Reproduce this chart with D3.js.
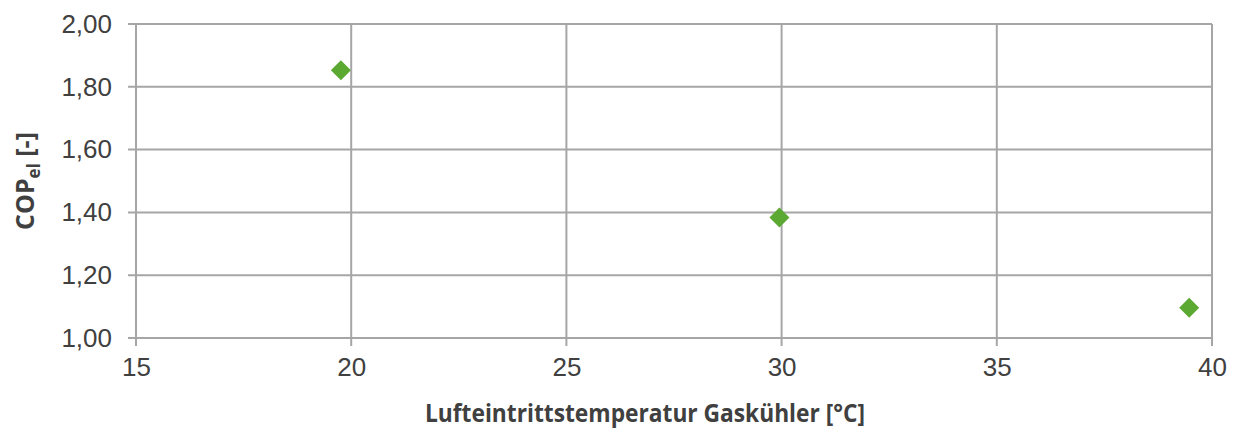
<!DOCTYPE html>
<html>
<head>
<meta charset="utf-8">
<script src="https://cdn.jsdelivr.net/npm/d3@7"></script>
<style>
  body { margin: 0; background: #fff; }
  svg { display: block; }
</style>
</head>
<body>
<svg></svg>
<script>
// values
const temps = [19.76, 29.95, 39.47];
const cops = [1.853, 1.384, 1.096];
const xTicks = [15, 20, 25, 30, 35, 40];
const yTicks = [1.0, 1.2, 1.4, 1.6, 1.8, 2.0];

const width = 1234;
const height = 429;

const margin = {
  top: 24,
  right: 22,
  bottom: 91,
  left: 136
}

const innerWidth = width - margin.left - margin.right;
const innerHeight = height - margin.top - margin.bottom;

const svg = d3.select('svg')
  .attr('width', width)
  .attr('height', height)

const g = svg.append('g')
  .attr('transform', `translate(${margin.left}, ${margin.top})`);

const xScale = d3.scaleLinear()
  .domain([15, 40])
  .range([0, innerWidth]);

const yScale = d3.scaleLinear()
  .domain([1, 2])
  .range([innerHeight, 0]);

const gridColor = '#a6a6a6';
const labelFont = '"Liberation Sans", Arial, sans-serif';
const titleFont = '"Open Sans", sans-serif';

// grid lines
g.selectAll('.hgrid')
  .data(yTicks)
  .enter()
  .append('line')
  .attr('x1', -8)
  .attr('x2', innerWidth)
  .attr('y1', d => yScale(d))
  .attr('y2', d => yScale(d))
  .attr('stroke', gridColor)
  .attr('stroke-width', 2)

g.selectAll('.vgrid')
  .data(xTicks)
  .enter()
  .append('line')
  .attr('x1', d => xScale(d))
  .attr('x2', d => xScale(d))
  .attr('y1', 0)
  .attr('y2', innerHeight + 8)
  .attr('stroke', gridColor)
  .attr('stroke-width', 2)

// axes (labels only, lines are the grid above)
const xAxis = d3.axisBottom(xScale)
  .tickValues(xTicks)
  .tickSize(0)
  .tickPadding(20)
  .tickFormat(d3.format('d'));

const yAxis = d3.axisLeft(yScale)
  .tickValues(yTicks)
  .tickSize(0)
  .tickPadding(24)
  .tickFormat(d => d.toFixed(2).replace('.', ','));

g.append('g')
  .attr('transform', `translate(0, ${innerHeight})`)
  .call(xAxis)
  .call(a => a.select('.domain').remove())
  .selectAll('text')
  .style('font-family', labelFont)
  .style('font-size', '26px')
  .attr('fill', '#404040');

g.append('g')
  .call(yAxis)
  .call(a => a.select('.domain').remove())
  .selectAll('text')
  .style('font-family', labelFont)
  .style('font-size', '26px')
  .attr('fill', '#404040');

// axis titles
svg.append('text')
  .attr('x', 425)
  .attr('y', 422)
  .attr('textLength', 440)
  .attr('lengthAdjust', 'spacingAndGlyphs')
  .style('font-family', titleFont)
  .style('font-weight', 'bold')
  .style('font-size', '25px')
  .attr('fill', '#404040')
  .text('Lufteintrittstemperatur Gaskühler [°C]');

const yTitle = svg.append('text')
  .attr('transform', `translate(34, ${margin.top + innerHeight / 2}) rotate(-90)`)
  .attr('text-anchor', 'middle')
  .style('font-family', titleFont)
  .style('font-weight', 'bold')
  .style('font-size', '25px')
  .attr('fill', '#404040');

yTitle.append('tspan').text('COP');
yTitle.append('tspan')
  .attr('dy', 6)
  .style('font-size', '17px')
  .text('el');
yTitle.append('tspan')
  .attr('dy', -6)
  .text(' [-]');

// points
const points = temps.map((t, i) => ({ x: t, y: cops[i] }));

g.selectAll('.pt')
  .data(points)
  .enter()
  .append('path')
  .attr('class', 'pt')
  .attr('d', d3.symbol(d3.symbolSquare, 200))
  .attr('transform', d => `translate(${xScale(d.x)}, ${yScale(d.y)}) rotate(45)`)
  .attr('fill', '#5ba933');
</script>
</body>
</html>
